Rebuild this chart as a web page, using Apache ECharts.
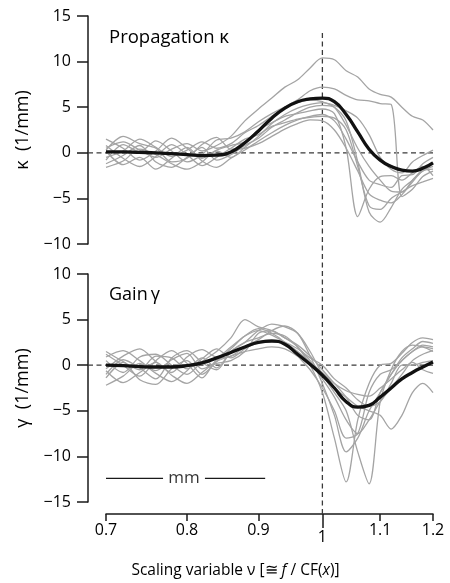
<!DOCTYPE html>
<html><head><meta charset="utf-8">
<script src="https://cdn.jsdelivr.net/npm/echarts@6/dist/echarts.min.js"></script>
<style>html,body{margin:0;padding:0;background:#fff}#c{width:450px;height:583px}</style>
</head><body><div id="c"></div>
<script>
// ---------- data ----------
const vGrid = [0.70,0.72,0.74,0.76,0.78,0.80,0.82,0.84,0.86,0.88,0.90,0.92,0.94,0.96,0.98,1.00,1.02,1.04,1.06,1.08,1.10,1.12,1.14,1.16,1.18,1.20];

const kappaMean = [0.1,0.1,0.05,0.0,-0.1,-0.2,-0.3,-0.25,0.1,1.1,2.4,3.8,4.9,5.6,5.9,6.0,5.6,4.2,2.3,0.4,-0.8,-1.5,-1.9,-2.0,-1.7,-1.1];
const kappa1 = [0.5,1.2,0.3,-0.5,0.4,1.0,0.2,0.8,1.8,3.5,4.8,6.0,7.2,8.0,9.3,10.4,10.2,9.0,8.3,7.0,6.4,6.1,5.0,4.0,3.6,2.5];
const kappa2 = [-0.5,0.2,1.5,0.6,-0.4,0.3,1.2,0.5,1.0,2.2,3.0,4.0,5.0,5.8,6.8,7.2,7.0,6.3,5.8,5.7,5.4,5.3,-4.8,-4.0,-2.6,-2.0];
const kappa3 = [1.5,0.5,-0.8,0.2,1.6,0.5,-0.6,0.3,0.8,1.2,2.5,3.3,4.0,4.3,4.6,4.8,4.3,0.5,-7.0,-4.0,-2.6,-2.5,-3.0,-2.2,-1.5,-2.5];
const kappa4 = [-1.2,-0.3,0.8,-1.0,-1.6,-0.5,0.6,-0.8,-0.2,0.8,1.6,2.8,3.6,4.4,5.0,5.2,5.0,3.5,-1.0,-6.5,-7.6,-6.0,-4.0,-3.0,-2.0,-1.5];
const kappa5 = [0.8,-0.6,-1.5,-0.4,0.9,-0.2,-1.4,-0.5,0.5,1.5,2.0,2.9,3.3,3.7,3.9,4.0,3.8,2.5,-1.5,-5.8,-6.2,-5.0,-4.3,-3.6,-3.2,-2.8];
const kappa6 = [-0.8,0.9,0.1,1.3,0.2,-1.0,-0.2,1.4,1.6,2.3,3.4,4.3,5.0,5.5,5.8,5.6,5.0,3.0,0.5,-1.5,-3.0,-4.2,-4.3,-3.0,-1.8,-1.0];
const kappa7 = [0.2,-1.3,-0.5,-1.8,-0.6,0.6,-0.9,-1.6,-0.6,0.3,1.3,2.2,3.0,3.6,4.0,4.2,3.5,1.5,-1.0,-3.0,-3.5,-3.8,-2.5,-2.4,-1.2,-0.5];
const kappa8 = [-1.6,-0.9,0.4,-0.2,-1.2,-1.8,-1.0,0.2,-0.5,0.6,1.8,3.2,4.2,4.9,5.3,5.5,5.2,4.6,3.8,2.0,-0.5,-1.8,-2.2,-1.0,-0.3,0.3];
const kappa9 = [0.3,1.8,1.0,0.5,-1.0,-0.6,0.9,1.7,0.4,0.5,1.0,1.8,2.6,3.2,3.6,3.5,2.5,0.5,-2.0,-4.5,-5.2,-5.5,-4.6,-3.2,-2.0,-1.8];

const gammaMean = [0.0,-0.05,-0.15,-0.2,-0.2,-0.05,0.25,0.8,1.4,2.0,2.5,2.65,2.3,1.2,0.1,-1.1,-2.5,-4.0,-4.6,-4.4,-3.5,-2.5,-1.5,-0.8,-0.2,0.35];
const gamma1 = [0.5,-0.8,0.9,1.2,0.0,-1.0,0.4,1.5,3.0,5.0,4.2,3.8,3.0,2.0,0.0,-3.0,-8.0,-12.8,-6.0,-2.0,0.0,0.2,1.3,2.5,3.0,2.8];
const gamma2 = [-1.0,0.6,-0.3,-1.5,0.8,1.6,0.3,-0.5,1.5,2.5,3.8,4.5,4.2,3.5,1.5,-1.0,-3.0,-5.0,-9.5,-13.0,-4.0,-0.5,1.5,2.2,2.0,1.5];
const gamma3 = [1.2,0.0,-1.2,0.5,1.6,0.2,-1.4,0.6,1.0,2.0,2.8,3.8,4.3,3.5,1.0,-2.0,-5.5,-9.5,-8.0,-5.0,-3.0,-1.0,0.5,1.5,2.2,2.0];
const gamma4 = [-0.4,1.0,1.8,0.4,-0.8,0.9,1.7,0.9,2.0,3.2,3.8,3.3,2.5,1.5,0.3,-1.5,-3.5,-6.0,-7.5,-6.0,-4.0,-2.5,-1.0,0.5,1.2,1.6];
const gamma5 = [-2.2,-1.2,0.2,-0.9,-1.8,-0.6,0.8,-0.3,1.5,2.5,3.0,3.5,3.2,2.0,0.5,-1.0,-2.5,-3.5,-4.5,-5.0,-5.5,-7.0,-5.5,-3.0,-2.0,-3.0];
const gamma6 = [0.9,1.6,0.5,-0.6,0.6,1.3,-0.4,0.2,0.5,1.5,3.5,3.8,3.0,2.2,1.0,-0.5,-2.0,-3.5,-5.5,-6.0,-3.0,-1.0,0.8,1.8,2.6,2.4];
const gamma7 = [-0.6,-1.9,-0.8,0.3,-1.1,-2.0,-0.8,0.4,1.0,1.5,1.8,2.0,1.8,1.0,0.2,-0.8,-2.0,-2.8,-3.2,-3.4,-2.5,-1.5,-0.5,0.3,-0.5,-0.9];
const gamma8 = [1.5,0.4,-0.5,1.0,0.8,-0.4,0.7,1.8,0.8,1.8,2.5,2.8,2.5,1.8,0.8,0.0,-1.5,-2.5,-3.8,-4.5,-4.0,-2.0,0.0,0.0,0.3,0.5];
const gamma9 = [-1.4,0.3,-1.6,-2.1,-0.4,0.5,-1.0,0.4,1.8,3.2,4.0,3.5,2.5,1.0,-0.5,-2.5,-5.0,-8.0,-7.5,-3.0,-1.0,-0.5,0.5,1.5,2.0,1.8];

const kappaGray = [kappa1,kappa2,kappa3,kappa4,kappa5,kappa6,kappa7,kappa8,kappa9];
const gammaGray = [gamma1,gamma2,gamma3,gamma4,gamma5,gamma6,gamma7,gamma8,gamma9];

const xTicks = [0.7,0.8,0.9,1,1.1,1.2];
const xTickLabels = ['0.7','0.8','0.9','1','1.1','1.2'];
const xMin = 0.7, xMax = 1.2;
const refV = 1;
const kappaRange = [-10, 15];
const gammaRange = [-15, 10];
const scaleBarLeft = [0.7, 0.769];
const scaleBarRight = [0.824, 0.91];
const scaleBarY = -12.4;
const scaleBarLabelV = 0.796;

// ---------- chart ----------
const L = Math.log;
const FONT = '"Open Sans", "Noto Sans", sans-serif';
const INK = '#000000';
const GRAY = '#a4a4a4';
const pairs = ys => vGrid.map((v, i) => [L(v), ys[i]]);
const minusFmt = v => (v < 0 ? '\u2212' + (-v) : String(v));
const xLabelFmt = val => {
  let best = 0;
  xTicks.forEach((t, i) => { if (Math.abs(L(t) - val) < Math.abs(L(xTicks[best]) - val)) best = i; });
  const s = xTickLabels[best];
  return xTicks[best] === refV ? '{low|' + s + '}' : s;
};

const gTop = {left: 106, right: 17, top: 16, height: 228};
const gBot = {left: 106, right: 17, top: 274, height: 228};

function yAxisPanel(gi, range, name) {
  return {
    type: 'value', gridIndex: gi, min: range[0], max: range[1], interval: 5, offset: 18, position: 'left',
    axisLine: {show: true, onZero: false, lineStyle: {color: '#1a1a1a', width: 1.5}},
    axisTick: {show: true, length: 11, lineStyle: {color: '#1a1a1a', width: 1.5}},
    axisLabel: {fontSize: 16, color: INK, fontFamily: FONT, margin: 17, formatter: minusFmt},
    splitLine: {show: false},
    name: name, nameLocation: 'middle', nameGap: 56,
    nameTextStyle: {fontSize: 18, color: INK, fontFamily: FONT}
  };
}
const hiddenAxis = (gi, extra) => Object.assign({
  type: 'value', gridIndex: gi, show: false, splitLine: {show: false}, axisLine: {onZero: false}
}, extra);

const series = [];
function grayLines(list, xi, yi) {
  list.forEach(ys => series.push({
    type: 'line', xAxisIndex: xi, yAxisIndex: yi, data: pairs(ys), smooth: 0.3,
    showSymbol: false, lineStyle: {color: GRAY, width: 1.3}, z: 3, silent: true
  }));
}
grayLines(kappaGray, 0, 0);
grayLines(gammaGray, 1, 1);
series.push({type: 'line', xAxisIndex: 0, yAxisIndex: 0, data: pairs(kappaMean), smooth: 0.5,
  showSymbol: false, lineStyle: {color: '#111', width: 3.3}, z: 5});
series.push({type: 'line', xAxisIndex: 1, yAxisIndex: 1, data: pairs(gammaMean), smooth: 0.5,
  showSymbol: false, lineStyle: {color: '#111', width: 3.3}, z: 5});

// zero reference lines (from y axis to right edge)
const dash = {color: '#3a3a3a', width: 1.3, type: [5, 3.5]};
series.push({type: 'line', xAxisIndex: 3, yAxisIndex: 3, data: [[0, 0], [1, 0]], showSymbol: false, lineStyle: dash, z: 2});
series.push({type: 'line', xAxisIndex: 4, yAxisIndex: 4, data: [[0, 0], [1, 0]], showSymbol: false, lineStyle: dash, z: 2});
// vertical reference at nu = 1 through both panels
series.push({type: 'line', xAxisIndex: 5, yAxisIndex: 5, data: [[L(refV), 0], [L(refV), 1]], showSymbol: false, lineStyle: dash, z: 2});

// scale bar "mm"
const barStyle = {color: '#1a1a1a', width: 1.2};
series.push({type: 'line', xAxisIndex: 1, yAxisIndex: 1, data: scaleBarLeft.map(v => [L(v), scaleBarY]), showSymbol: false, lineStyle: barStyle, z: 4});
series.push({type: 'line', xAxisIndex: 1, yAxisIndex: 1, data: scaleBarRight.map(v => [L(v), scaleBarY]), showSymbol: false, lineStyle: barStyle, z: 4});
series.push({type: 'scatter', xAxisIndex: 1, yAxisIndex: 1, data: [[L(scaleBarLabelV), scaleBarY]], symbolSize: 0, z: 4,
  label: {show: true, position: 'inside', formatter: 'mm', fontSize: 17, color: INK, fontFamily: FONT}});

const option = {
  animation: false,
  backgroundColor: '#fff',
  textStyle: {fontFamily: FONT},
  title: [
    {text: 'Propagation \u03ba', left: 109, top: 28, padding: 0, textStyle: {fontSize: 18.5, fontWeight: 'normal', color: INK, fontFamily: FONT}},
    {text: 'Gain\u2009\u03b3', left: 109, top: 286, padding: 0, textStyle: {fontSize: 18, fontWeight: 'normal', color: INK, fontFamily: FONT}}
  ],
  grid: [
    gTop, gBot,
    {left: 88, right: 17, top: 16, height: 228},
    {left: 88, right: 17, top: 274, height: 228},
    {left: 88, right: 17, top: 274, height: 228},
    {left: 106, right: 17, top: 33, bottom: 69}
  ],
  xAxis: [
    hiddenAxis(0, {min: L(xMin), max: L(xMax)}),
    {
      type: 'value', gridIndex: 1, min: L(xMin), max: L(xMax), offset: 12, position: 'bottom',
      axisLine: {show: true, onZero: false, lineStyle: {color: '#1a1a1a', width: 1.5}},
      axisTick: {show: true, length: 7, customValues: xTicks.map(L), lineStyle: {color: '#1a1a1a', width: 1.5}},
      axisLabel: {show: true, customValues: xTicks.map(L), fontSize: 16, color: INK, fontFamily: FONT, margin: 8,
        formatter: xLabelFmt, rich: {low: {padding: [7, 0, 0, 0], fontSize: 16, color: INK, fontFamily: FONT}}},
      splitLine: {show: false},
      name: 'Scaling variable \u03bd [\u2245 {i|f} / CF({i|x})]',
      nameLocation: 'middle', nameGap: 49,
      nameTextStyle: {fontSize: 15.5, color: INK, fontFamily: FONT, padding: [0, 68, 0, 0],
        rich: {i: {fontStyle: 'italic', fontSize: 15.5, color: INK, fontFamily: FONT}}}
    },
    {
      type: 'value', gridIndex: 1, min: L(xMin), max: L(xMax), offset: 12, position: 'bottom',
      axisLine: {show: false, onZero: false},
      axisTick: {show: true, length: 14, customValues: [L(refV)], lineStyle: {color: '#1a1a1a', width: 1.5}},
      axisLabel: {show: false}, splitLine: {show: false}
    },
    hiddenAxis(2, {min: 0, max: 1}),
    hiddenAxis(3, {min: 0, max: 1}),
    hiddenAxis(5, {min: L(xMin), max: L(xMax)})
  ],
  yAxis: [
    yAxisPanel(0, kappaRange, '\u03ba  (1/mm)'),
    yAxisPanel(1, gammaRange, '\u03b3  (1/mm)'),
    hiddenAxis(1, {min: gammaRange[0], max: gammaRange[1]}),
    hiddenAxis(2, {min: kappaRange[0], max: kappaRange[1]}),
    hiddenAxis(3, {min: gammaRange[0], max: gammaRange[1]}),
    hiddenAxis(5, {min: 0, max: 1})
  ],
  series: series
};
const chart = echarts.init(document.getElementById('c'), null, {renderer: 'canvas'});
chart.setOption(option);
</script></body></html>
